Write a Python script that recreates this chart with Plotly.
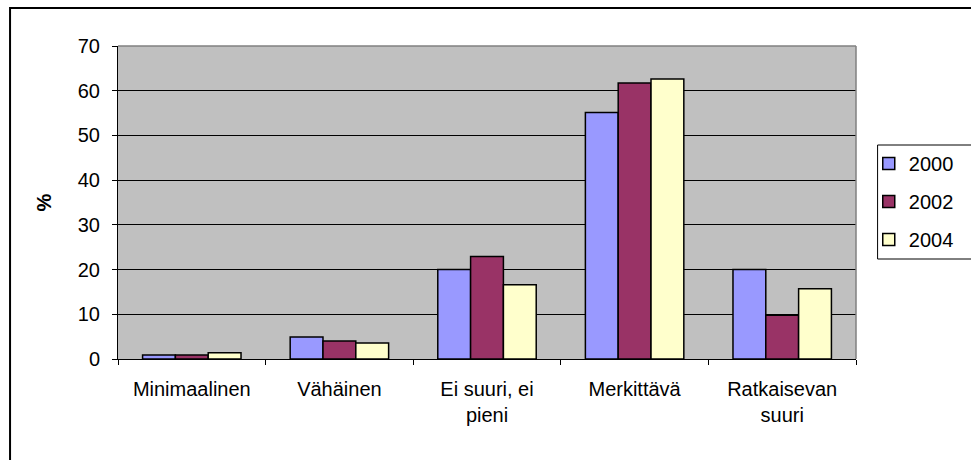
import plotly.graph_objects as go

categories = ["Minimaalinen", "Vähäinen", "Ei suuri, ei<br>pieni", "Merkittävä", "Ratkaisevan<br>suuri"]
series_names = ["2000", "2002", "2004"]
values_2000 = [0.9, 4.9, 20.0, 55.1, 20.0]
values_2002 = [0.9, 4.0, 22.9, 61.7, 9.8]
values_2004 = [1.4, 3.6, 16.6, 62.6, 15.7]
colors = ["#9999FF", "#993366", "#FFFFCC"]
y_ticks = [0, 10, 20, 30, 40, 50, 60, 70]

FONT = "Liberation Sans, Arial, sans-serif"
FS = 20

fig = go.Figure()
for name, vals, col in zip(series_names, [values_2000, values_2002, values_2004], colors):
    fig.add_trace(go.Bar(
        x=categories, y=vals, name=name, legendgroup=name,
        marker=dict(color=col, line=dict(color="black", width=1.5)),
    ))

W, H = 971, 460
L, R, T, B = 118, 870, 46, 359

def px_x(p):
    return (p - L) / (R - L)

def px_y(p):
    return (B - p) / (B - T)

fig.update_layout(
    width=W, height=H,
    margin=dict(l=L, r=W - R, t=T, b=H - B, pad=0),
    paper_bgcolor="white",
    plot_bgcolor="#C0C0C0",
    font=dict(family=FONT, size=FS, color="black"),
    barmode="group",
    bargap=0.333,
    bargroupgap=0,
    showlegend=True,
    legend=dict(
        x=px_x(883), xanchor="left",
        y=px_y(144), yanchor="top",
        borderwidth=0,
        bgcolor="rgba(0,0,0,0)",
        font=dict(family=FONT, size=FS),
        traceorder="grouped",
        tracegroupgap=9,
    ),
    xaxis=dict(
        showline=True, linecolor="black", linewidth=1,
        ticks="outside", ticklen=5, tickcolor="black",
        tickson="boundaries",
        showgrid=False,
        ticklabelstandoff=12,
        tickfont=dict(family=FONT, size=FS),
    ),
    yaxis=dict(
        range=[0, 70],
        tickvals=y_ticks,
        showline=True, linecolor="black", linewidth=1,
        ticks="outside", ticklen=5, tickcolor="black",
        showgrid=True, gridcolor="black", gridwidth=1,
        zeroline=False,
        ticklabelstandoff=8,
        tickfont=dict(family=FONT, size=FS),
        title=dict(text="<b>%</b>", font=dict(family=FONT, size=FS), standoff=20),
    ),
    shapes=[
        dict(type="line", xref="paper", yref="paper", x0=0, x1=1, y0=1, y1=1,
             line=dict(color="#808080", width=1.5), layer="above"),
        dict(type="line", xref="paper", yref="paper", x0=1, x1=1, y0=0, y1=1,
             line=dict(color="#808080", width=1.5), layer="above"),
        dict(type="rect", xref="paper", yref="paper",
             x0=px_x(8), x1=px_x(1000), y0=px_y(490), y1=px_y(8),
             line=dict(color="black", width=2), fillcolor="rgba(0,0,0,0)", layer="above"),
        dict(type="rect", xref="paper", yref="paper",
             x0=px_x(892), x1=px_x(1000), y0=px_y(259), y1=px_y(145),
             line=dict(color="black", width=1), fillcolor="rgba(0,0,0,0)", layer="above"),
    ],
)

fig.write_html(
    "out.html",
    config={"displayModeBar": False},
    post_script="document.body.style.margin='0';document.body.style.padding='0';document.body.style.overflow='hidden';",
)
